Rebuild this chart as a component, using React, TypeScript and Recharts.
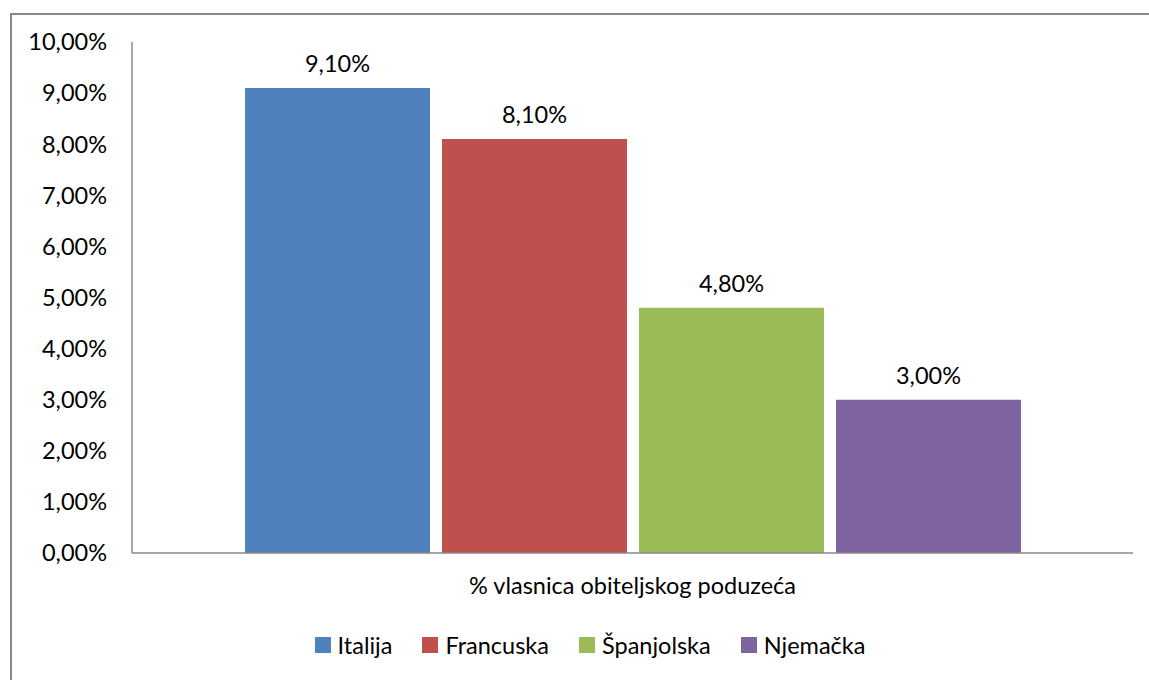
import { Bar, BarChart, LabelList, Legend, XAxis, YAxis } from "recharts";

const categories = ["% vlasnica obiteljskog poduzeća"];
const seriesNames = ["Italija", "Francuska", "Španjolska", "Njemačka"];
const seriesValues = [[9.1], [8.1], [4.8], [3.0]];
const seriesColors = ["#4F81BD", "#C0504D", "#9BBB59", "#8064A2"];
const yTicks = [0, 1, 2, 3, 4, 5, 6, 7, 8, 9, 10];

const data = categories.map((name, i) => {
  const row: Record<string, string | number> = { name };
  seriesNames.forEach((s, j) => {
    row[s] = seriesValues[j][i];
  });
  return row;
});

const font = "Lato, 'Open Sans', sans-serif";
const fs = 23.5;
const pct = (v: number) => v.toFixed(2).replace(".", ",") + "%";

function LegendBox() {
  return (
    <div
      style={{
        display: "flex",
        justifyContent: "center",
        gap: 30,
        fontFamily: font,
        fontSize: fs,
        color: "#000",
        lineHeight: "28px",
      }}
    >
      {seriesNames.map((s, i) => (
        <div key={s} style={{ display: "flex", alignItems: "center" }}>
          <span
            style={{
              width: 16,
              height: 16,
              background: seriesColors[i],
              marginRight: 7,
              display: "inline-block",
            }}
          />
          {s}
        </div>
      ))}
    </div>
  );
}

export default function App() {
  return (
    <div
      style={{
        position: "fixed",
        left: 0,
        top: 0,
        width: 1149,
        height: 680,
        background: "#fff",
        overflow: "hidden",
      }}
    >
      <div
        style={{
          position: "absolute",
          left: 10,
          top: 13,
          width: 1160,
          height: 690,
          border: "2px solid #888",
          boxSizing: "border-box",
        }}
      />
      <BarChart
        width={1149}
        height={680}
        data={data}
        margin={{ top: 42, right: 16, left: 0, bottom: 0 }}
        barCategoryGap={113}
        barGap={12}
      >
        <XAxis
          dataKey="name"
          axisLine={{ stroke: "#888", strokeWidth: 1.5 }}
          tickLine={false}
          tickSize={0}
          tickMargin={24}
          height={99}
          tick={{ fill: "#000", fontSize: fs, fontFamily: font }}
        />
        <YAxis
          width={132}
          domain={[0, 10]}
          ticks={yTicks}
          interval={0}
          tickFormatter={pct}
          axisLine={{ stroke: "#888", strokeWidth: 1.5 }}
          tickLine={false}
          tickSize={0}
          tickMargin={25}
          tick={{ fill: "#000", fontSize: fs, fontFamily: font }}
        />
        <Legend
          verticalAlign="bottom"
          content={() => <LegendBox />}
          wrapperStyle={{ left: 240, width: 700, top: 631 }}
        />
        {seriesNames.map((s, i) => (
          <Bar key={s} dataKey={s} fill={seriesColors[i]} isAnimationActive={false}>
            <LabelList
              dataKey={s}
              position="top"
              offset={16}
              formatter={(v: number) => pct(v)}
              style={{ fill: "#000", fontSize: fs, fontFamily: font }}
            />
          </Bar>
        ))}
      </BarChart>
    </div>
  );
}
